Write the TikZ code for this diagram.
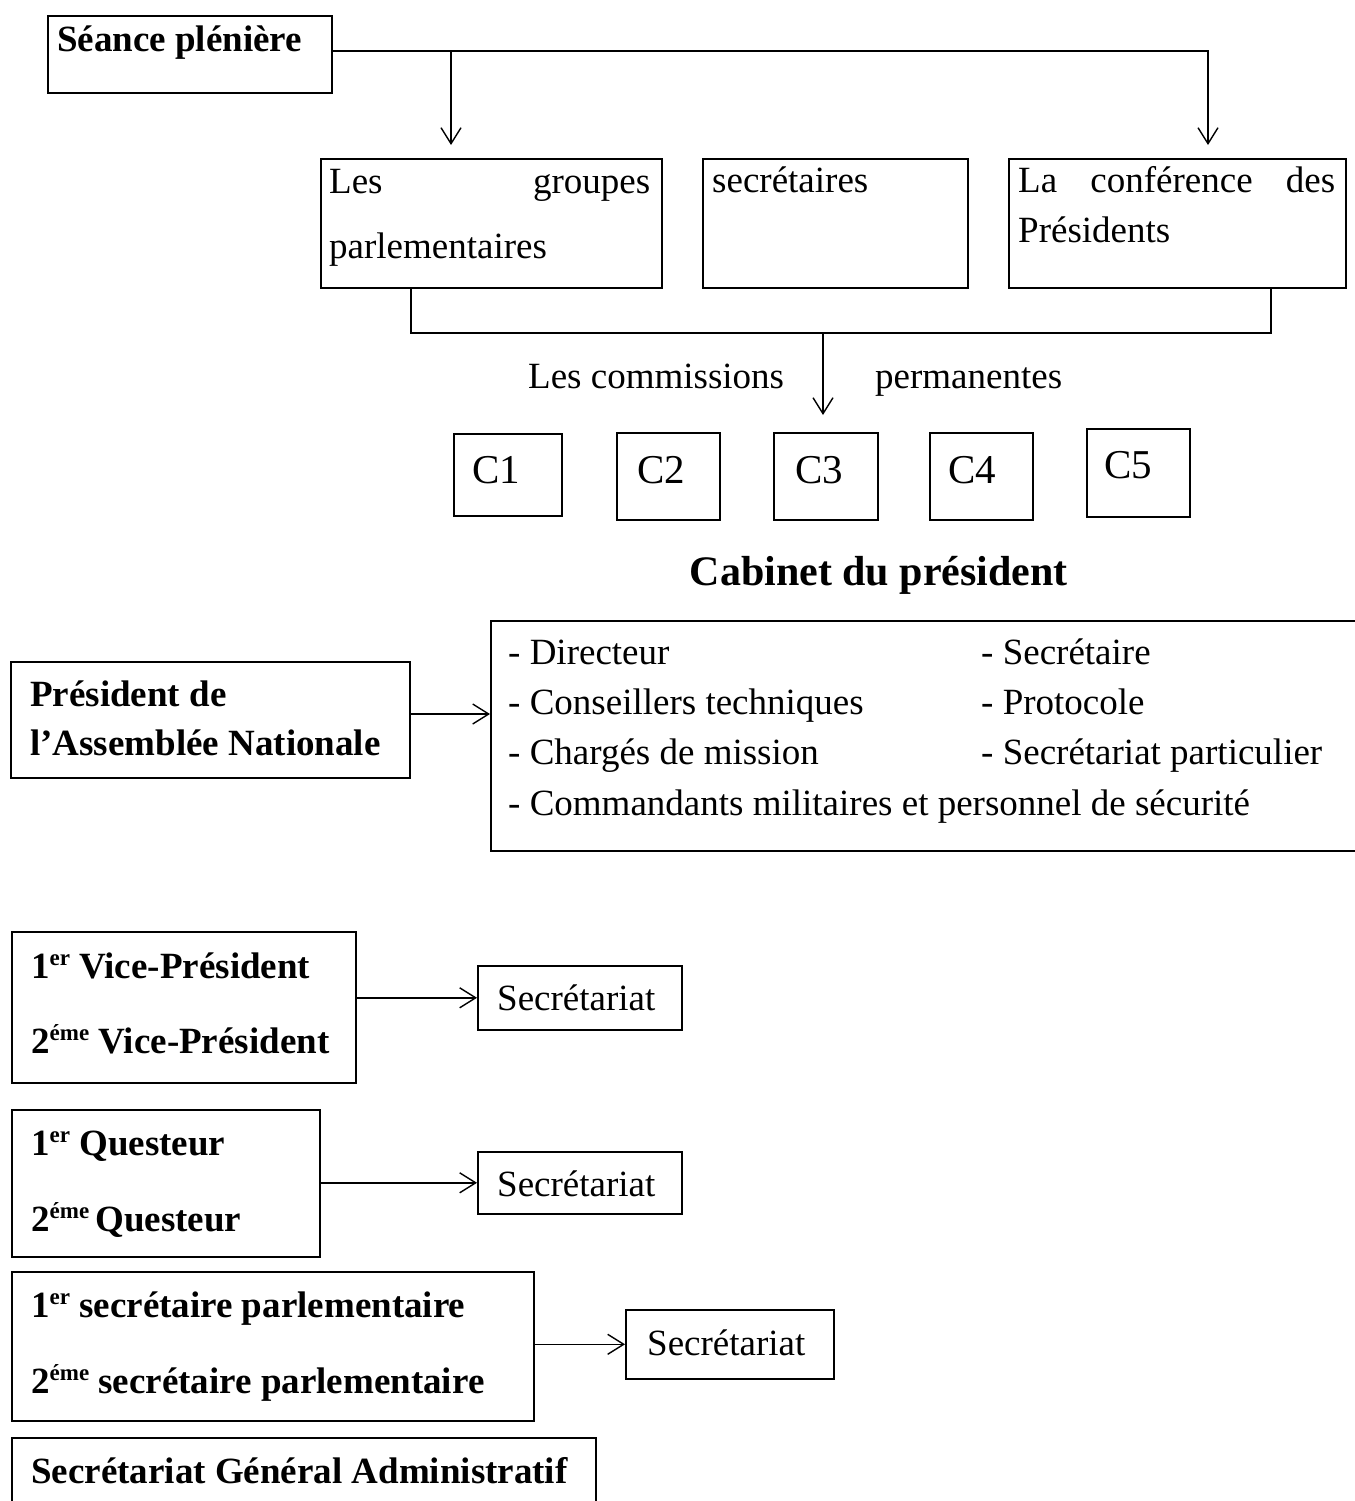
\documentclass[tikz,border=0pt]{standalone}
\usepackage{fontspec}
\setmainfont{Liberation Serif}
\usetikzlibrary{arrows.meta}
\newcommand\fbody{\fontsize{37}{44}\selectfont}
\newcommand\fcom{\fontsize{41}{48}\selectfont}
\newcommand\ftitle{\fontsize{42}{50}\selectfont\bfseries}
\newcommand\supx[1]{\raisebox{13pt}{\fontsize{23}{23}\selectfont #1}}
\tikzset{
  box/.style={draw, rectangle, line width=1.6pt, inner sep=0pt, anchor=north west},
  txt/.style={anchor=base west, inner sep=0pt, font=\fbody},
  btxt/.style={anchor=base west, inner sep=0pt, font=\fbody\bfseries},
  ctxt/.style={anchor=base west, inner sep=0pt, font=\fcom},
  arr/.style={-{Straight Barb[length=16pt,width=20pt,line width=1.4pt]}, line width=1.4pt},
  conn/.style={line width=1.4pt}
}
\begin{document}
\begin{tikzpicture}[x=1pt,y=-1pt]
\useasboundingbox (0,0) rectangle (1354,1501);
% top section
\node[box, minimum width=284pt, minimum height=77pt] (seance) at (47,15) {};
\node[btxt] (tseance) at (57,52) {Séance plénière};
\node[box, minimum width=341pt, minimum height=129pt] (grp) at (320,158) {};
\node[txt] (tgrp1) at (329,193) {\makebox[321pt][s]{Les groupes}};
\node[txt] (tgrp2) at (329,258) {parlementaires};
\node[box, minimum width=265pt, minimum height=129pt] (sec) at (702,158) {};
\node[txt] (tsec) at (712,192) {secrétaires};
\node[box, minimum width=337pt, minimum height=129pt] (conf) at (1008,158) {};
\node[txt] (tconf1) at (1018,192) {\makebox[317pt][s]{La conférence des}};
\node[txt] (tconf2) at (1018,242) {Présidents};
\coordinate (j1) at (451,51);
\coordinate (j2) at (1208,51);
\draw[arr, shorten >=13pt] (seance.east |- j1) -- (j2) -- (j2 |- conf.north);
\draw[arr, shorten >=13pt] (j1) -- (j1 |- grp.north);
% commissions
\coordinate (b1) at (411,333);
\coordinate (b2) at (1271,333);
\coordinate (bm) at (823,333);
\node[txt] (tcom1) at (528,388) {Les commissions};
\node[txt] (tcom2) at (875,388) {permanentes};
\node[box, minimum width=108pt, minimum height=82pt] (c1) at (453,433) {};
\node[box, minimum width=103pt, minimum height=87pt] (c2) at (616,432) {};
\node[box, minimum width=104pt, minimum height=87pt] (c3) at (773,432) {};
\node[box, minimum width=103pt, minimum height=87pt] (c4) at (929,432) {};
\node[box, minimum width=103pt, minimum height=88pt] (c5) at (1086,428) {};
\node[ctxt] (tc1) at (472,483) {C1};
\node[ctxt] (tc2) at (637,483) {C2};
\node[ctxt] (tc3) at (795,483) {C3};
\node[ctxt] (tc4) at (948,483) {C4};
\node[ctxt] (tc5) at (1104,478) {C5};
\draw[conn] (grp.south -| b1) -- (b1) -- (b2) -- (b2 |- conf.south);
\draw[arr, shorten >=17pt] (bm) -- (bm |- c3.north);
% cabinet
\node[anchor=base east, inner sep=0pt, font=\ftitle] (title) at (1068,585) {Cabinet du président};
\node[box, minimum width=399pt, minimum height=116pt] (pres) at (10,661) {};
\node[btxt] (tpres1) at (30,706) {Président de};
\node[btxt] (tpres2) at (30,755) {l’Assemblée Nationale};
\node[box, minimum width=950pt, minimum height=230pt] (cab) at (490,620) {};
\node[txt] (k1) at (508,664) {- Directeur};
\node[txt] (k2) at (508,714) {- Conseillers techniques};
\node[txt] (k3) at (508,764) {- Chargés de mission};
\node[txt] (k4) at (508,815) {- Commandants militaires et personnel de sécurité};
\node[txt] (k5) at (981,664) {- Secrétaire};
\node[txt] (k6) at (981,714) {- Protocole};
\node[txt] (k7) at (981,764) {- Secrétariat particulier};
\draw[arr] (pres.east |- 0,714) -- (cab.west |- 0,714);
% vice-presidents
\node[box, minimum width=344pt, minimum height=151pt] (vp) at (11,931) {};
\node[btxt] (tvp1) at (31,978) {1\supx{er} Vice-Président};
\node[btxt] (tvp2) at (31,1053) {2\supx{éme} Vice-Président};
\node[box, minimum width=204pt, minimum height=64pt] (s1) at (477,965) {};
\node[txt] (ts1) at (497,1010) {Secrétariat};
\draw[arr] (vp.east |- s1.west) -- (s1.west);
% questeurs
\node[box, minimum width=308pt, minimum height=147pt] (qs) at (11,1109) {};
\node[btxt] (tq1) at (31,1155) {1\supx{er} Questeur};
\node[btxt] (tq2) at (31,1231) {2\supx{éme}\,Questeur};
\node[box, minimum width=204pt, minimum height=62pt] (s2) at (477,1151) {};
\node[txt] (ts2) at (497,1196) {Secrétariat};
\draw[arr] (qs.east |- s2.west) -- (s2.west);
% secretaires parlementaires
\node[box, minimum width=522pt, minimum height=149pt] (sp) at (11,1271) {};
\node[btxt] (tsp1) at (31,1317) {1\supx{er} secrétaire parlementaire};
\node[btxt] (tsp2) at (31,1393) {2\supx{éme} secrétaire parlementaire};
\node[box, minimum width=208pt, minimum height=69pt] (s3) at (625,1309) {};
\node[txt] (ts3) at (647,1355) {Secrétariat};
\draw[arr] (sp.east |- s3.west) -- (s3.west);
% secretariat general
\node[box, minimum width=584pt, minimum height=100pt] (sga) at (11,1437) {};
\node[btxt] (tsga) at (31,1483) {Secrétariat Général Administratif};
\end{tikzpicture}
\end{document}
